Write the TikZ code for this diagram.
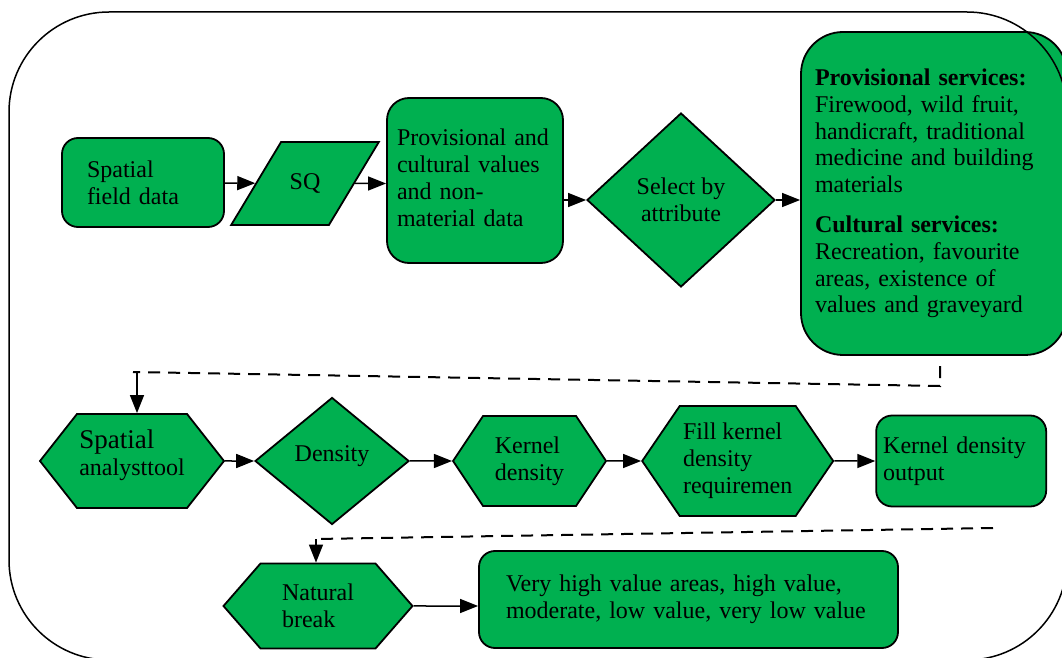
\documentclass[tikz,border=0pt]{standalone}
\usepackage{fontspec}
\setmainfont{Liberation Serif}
\usetikzlibrary{arrows.meta,positioning,shapes.geometric,shapes.symbols}
\definecolor{boxgreen}{RGB}{0,176,80}

\begin{document}
\begin{tikzpicture}[
  x=0.5pt, y=-0.5pt,
  base/.style={draw, fill=boxgreen, line width=0.9pt, inner sep=0pt, font=\fontsize{12}{13.4}\selectfont},
  box/.style={base, rounded corners=8pt, align=left},
  hexa/.style={base, signal, signal to=east and west, align=left},
  dia/.style={base, diamond, align=center},
  para/.style={base, trapezium, trapezium left angle=59, trapezium right angle=121},
  arr/.style={-{Triangle[length=9pt,width=7pt]}, line width=0.75pt},
  dline/.style={dash pattern=on 6pt off 4pt, line width=1pt},
  frame/.style={line width=0.75pt, rounded corners=50pt}
]
\path[use as bounding box, clip] (0,0) rectangle (1062,658);

% first row
\node[box, minimum width=81pt, minimum height=44.5pt, text width=56pt, inner xsep=12.5pt] (sfd) at (143,182.5) {Spatial\\ field data};
\node[para, inner xsep=4.3pt, inner ysep=15.75pt, text height=8pt, text depth=2pt] (sq) at (305,183.5) {SQ};
\node[box, rounded corners=11pt, minimum height=82.5pt, text width=78pt, inner xsep=5pt, text height=8.3pt, text depth=42.8pt] (cpv) at (475,180.5) {Provisional and\\ cultural values\\ and non-\\ material data};
\node[dia, minimum width=94pt, minimum height=87pt] (sel) at (681,200) {Select by\\ attribute};
\node[box, rounded corners=21pt, minimum height=161.5pt, text width=119pt, inner xsep=7pt] (srv) at (934,193.5) {\textbf{Provisional services:}\\ Firewood, wild fruit,\\ handicraft, traditional\\ medicine and building\\ materials\\[6.5pt] \textbf{Cultural services:}\\ Recreation, favourite\\ areas, existence of\\ values and graveyard};

% second row
\node[hexa, minimum width=92pt, minimum height=47pt, signal pointer angle=103.6, text depth=8.6pt] (sat) at (132,461) {{\fontsize{13.5}{14}\selectfont Spatial}\\ analysttool};
\node[dia, minimum width=77pt, minimum height=63.5pt, text height=8.2pt, text depth=8.2pt, right=14.5pt of sat] (den) {Density};
\node[hexa, minimum width=76.5pt, minimum height=45pt, signal pointer angle=112.6, right=21pt of den] (kd) {Kernel\\ density};
\node[hexa, minimum width=95.5pt, minimum height=55pt, signal pointer angle=111.4, right=17pt of kd] (fkd) {Fill kernel\\ density\\ requiremen};
\node[box, minimum height=45.5pt, text width=78pt, inner xsep=3.5pt, right=20.5pt of fkd] (kdo) {Kernel density\\ output};

% third row
\node[hexa, minimum width=94.5pt, minimum height=42.5pt, signal pointer angle=97.9] (nb) at (318,606) {Natural\\ break};
\node[box, minimum height=48.5pt, text width=182.5pt, inner xsep=13.5pt] (vh) at (688.5,599.5) {Very high value areas, high value,\\ moderate, low value, very low value};

\coordinate (d1a) at (940,366);
\coordinate (d1b) at (940,386);
\coordinate (d1c) at (133,372);
\coordinate (d1d) at (137,372);
\coordinate (d2a) at (993,528);
\coordinate (d2b) at (316,539);

\draw[arr] (sfd) -- (sq);
\draw[arr] (sq) -- (sq -| cpv.west);
\draw[arr] (cpv.east |- sel) -- (sel);
\draw[arr] (sel) -- (sel -| srv.west);
\draw[dline] (d1a) -- (d1b) -- (d1c);
\draw[arr] (d1d) -- (d1d |- sat.north);
\draw[arr] (sat) -- (den);
\draw[arr] (den) -- (kd);
\draw[arr] (kd) -- (fkd);
\draw[arr] (fkd) -- (kdo);
\draw[dline] (d2a) -- (d2b);
\draw[arr] (d2b) -- (d2b |- nb.north);
\draw[arr] (nb) -- (nb -| vh.west);

% outer frame on top
\draw[frame] (9,12) rectangle (1067,660);

\end{tikzpicture}
\end{document}
